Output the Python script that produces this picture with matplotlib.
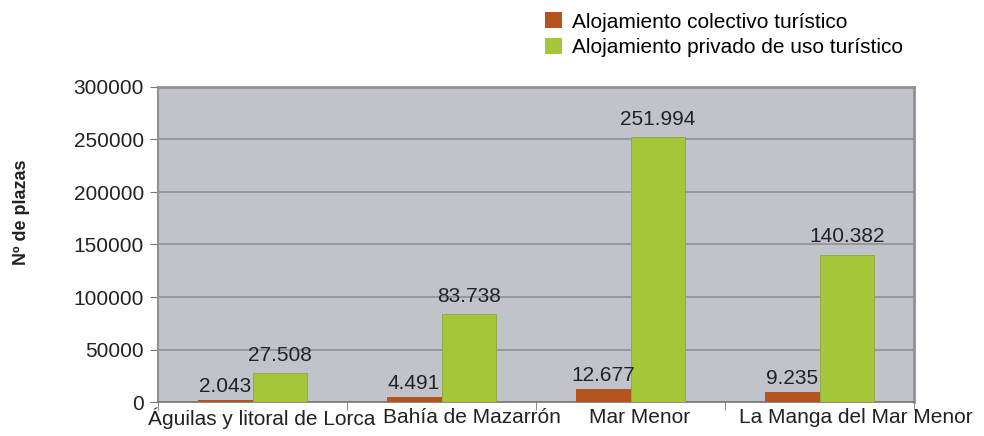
import matplotlib
matplotlib.use("Agg")
import matplotlib.pyplot as plt
import matplotlib.transforms as mtransforms
import numpy as np
from matplotlib.patches import Patch

plt.rcParams['font.family'] = ['Liberation Sans', 'DejaVu Sans']

categories = ["Águilas y litoral de Lorca", "Bahía de Mazarrón", "Mar Menor", "La Manga del Mar Menor"]
colectivo = [2043, 4491, 12677, 9235]
privado = [27508, 83738, 251994, 140382]
series_names = ["Alojamiento colectivo turístico", "Alojamiento privado de uso turístico"]
yticks = [0, 50000, 100000, 150000, 200000, 250000, 300000]

c_orange = "#B4541F"
c_green = "#A4C639"
txt = "#222222"

fig = plt.figure(figsize=(9.84, 4.36), dpi=100)
ax = fig.add_axes([158/984, 1-402/436, 756/984, 315/436])
ax.set_facecolor("#C0C4CA")

x = np.arange(len(categories))
w = 0.29
b1 = ax.bar(x - w/2, colectivo, w, color=c_orange, zorder=3)
b2 = ax.bar(x + w/2, privado, w, color=c_green, edgecolor="#8FA838", linewidth=0.6, zorder=3)

def fmt(v):
    return f"{v:,}".replace(",", ".")

for rect, v in zip(b1, colectivo):
    ax.annotate(fmt(v), (rect.get_x() + rect.get_width()/2, v), xytext=(0, 3),
                textcoords="offset points", ha="center", va="bottom", fontsize=15, color=txt)
for rect, v in zip(b2, privado):
    ax.annotate(fmt(v), (rect.get_x() + rect.get_width()/2, v), xytext=(0, 6),
                textcoords="offset points", ha="center", va="bottom", fontsize=15, color=txt)

ax.set_xlim(-0.5, len(categories) - 0.5)
ax.set_ylim(0, 300000)
ax.set_yticks(yticks)
ax.set_yticklabels([str(t) for t in yticks], fontsize=15, color=txt)
ax.yaxis.grid(True, color="#8E9297", linewidth=1.2, zorder=1)
ax.set_axisbelow(True)

ax.set_xticks(np.arange(len(categories) + 1) - 0.5, minor=True)
ax.set_xticks(x)
ax.set_xticklabels(categories, fontsize=15, color=txt)
ax.tick_params(axis='x', which='major', length=0, pad=4)
ax.tick_params(axis='x', which='minor', length=6, color="#777777")
ax.tick_params(axis='y', length=6, color="#777777", pad=4)

# shift category labels to the right, as in the reference layout
label_shift_px = [9, 30, 9, 36]
for lab, dx in zip(ax.get_xticklabels(), label_shift_px):
    lab.set_transform(lab.get_transform() + mtransforms.ScaledTranslation(dx/100, 0, fig.dpi_scale_trans))

for s in ["top", "right"]:
    ax.spines[s].set_color("#8E9297")
    ax.spines[s].set_linewidth(2)
ax.spines["left"].set_color("#8E9297")
ax.spines["left"].set_linewidth(1.5)
ax.spines["bottom"].set_color("#777777")
ax.spines["bottom"].set_linewidth(1.2)

ax.set_ylabel("Nº de plazas", fontsize=13, fontweight="bold", color=txt)
ax.yaxis.set_label_coords((30-158)/756, (402-212)/315)

handles = [Patch(facecolor=c_orange), Patch(facecolor=c_green)]
fig.legend(handles, series_names, loc="upper left", bbox_to_anchor=(537/984, 1 - 4/436),
           frameon=False, fontsize=15, handlelength=0.8, handleheight=0.8,
           handletextpad=0.5, labelspacing=0.32, borderaxespad=0)

fig.savefig("out.png", dpi=100)
